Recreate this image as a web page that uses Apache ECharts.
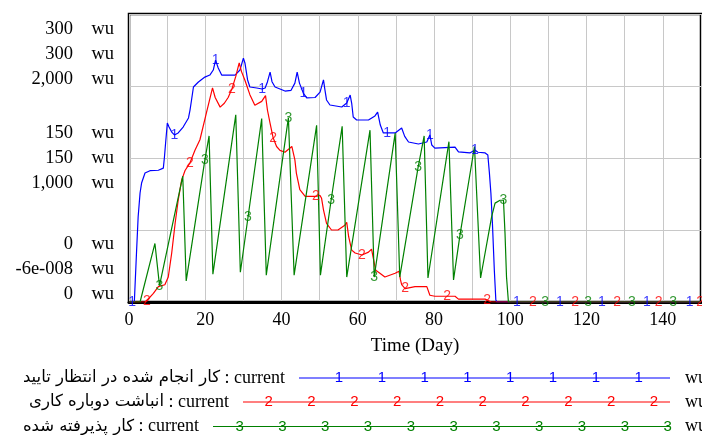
<!DOCTYPE html>
<html><head><meta charset="utf-8">
<script src="https://cdn.jsdelivr.net/npm/echarts@6/dist/echarts.min.js"></script>
<style>html,body{margin:0;padding:0;background:#fff}#c{width:702px;height:435px}</style>
</head><body><div id="c"></div>
<script>
// ---- data (day, value) ----
const blueData = [[0,0],[0.8,0],[1.4,0],[2.0,361],[2.4,592],[2.9,757],[3.3,826],[4.2,896],[5.5,912],[7.7,915],[9.0,930],[9.3,1007],[9.6,1104],[10.05,1243],[10.5,1215],[11.2,1180],[11.9,1160],[12.9,1174],[14.2,1215],[15.6,1278],[16.0,1333],[16.4,1403],[16.9,1493],[18.2,1528],[19.9,1562],[21.2,1576],[22.1,1611],[22.7,1680],[23.4,1625],[24.3,1576],[27.8,1576],[29.1,1611],[30.0,1694],[30.4,1660],[31.1,1542],[31.7,1493],[33.5,1486],[34.9,1479],[35.7,1486],[36.3,1528],[37.0,1597],[37.5,1530],[38.3,1493],[40.9,1465],[42.5,1470],[43.5,1520],[44.1,1597],[44.7,1520],[45.7,1451],[46.6,1417],[48.8,1420],[50.1,1458],[51.0,1542],[51.4,1470],[51.8,1403],[52.7,1368],[55.8,1354],[57.1,1382],[58.0,1437],[58.4,1380],[58.8,1285],[59.7,1264],[62.8,1264],[64.5,1292],[65.2,1319],[65.9,1229],[66.7,1174],[67.7,1174],[69.8,1174],[71.5,1208],[72.3,1150],[73.3,1111],[75.9,1097],[78.1,1111],[78.9,1160],[79.4,1090],[80.2,1069],[85.5,1076],[86.4,1042],[89.4,1035],[90.7,1056],[91.5,1040],[93.4,1035],[94.1,1021],[94.5,900],[94.9,757],[95.3,549],[95.8,222],[96.2,14],[96.5,0],[101.7,0],[113,0],[124,0],[135.8,0],[147,0],[150,0]];
const redData = [[0,0],[4.2,0],[4.7,1],[5.5,5],[6.4,9],[7.7,16],[9.4,18],[10.3,26],[11.2,51],[12.1,82],[12.9,106],[13.8,127],[14.7,137],[16.0,145],[17.3,158],[18.6,169],[20.3,197],[21.9,223],[22.6,213],[23.9,203],[25.0,207],[26.0,213],[27.0,222],[28.0,235],[28.9,249],[29.5,240],[30.4,231],[31.7,216],[33.0,205],[34.8,209],[35.8,215],[36.3,200],[37.0,186],[37.8,171],[38.7,162],[39.6,158],[40.9,156],[42.7,162],[43.1,164],[43.5,148],[43.9,134],[44.8,117],[46.2,110],[49.0,110],[50.1,111],[50.5,108],[51.0,96],[51.8,82],[53.1,75],[54.8,75],[56.6,80],[57.1,83],[57.6,68],[58.4,54],[59.3,51],[61.1,49],[62.8,52],[63.6,55],[64.0,47],[64.7,33],[65.8,30],[67.1,26],[69.8,30],[70.8,32],[71.2,23],[71.5,18],[72.4,14],[75.0,16],[78.1,16],[78.9,7],[80.2,6],[83.4,6],[85.5,6],[86.4,3],[93.4,3],[93.9,2],[95.0,0],[105.9,0],[117,0],[128,0],[138.9,0],[149.8,0],[150,0]];
const greenData = [[0,0],[2.9,0],[6.8,61],[8.0,17],[14.1,131],[15.0,22],[19.9,148],[21.0,173],[22.0,29],[28.0,195],[29.2,31],[31.2,88],[34.8,191],[36.0,28],[41.8,192],[43.3,28],[49.2,184],[50.2,28],[53.0,106],[55.9,183],[57.1,26],[63.2,179],[64.3,26],[69.8,176],[71.0,26],[75.8,140],[77.4,173],[78.4,25],[83.9,167],[85.1,23],[86.8,70],[90.6,162],[92.2,25],[95.1,89],[96.0,103],[97.3,106],[98.2,106],[98.6,72],[99.0,26],[99.5,0],[109.1,0],[120.4,0],[131.9,0],[142.7,0],[150,0]];
const blueMarkDays = [0.8,11.9,22.7,34.9,45.7,57.1,67.7,78.9,90.7,101.7,113,124,135.8,147];
const redMarkDays = [4.7,16.0,27.0,37.8,49.0,61.1,72.4,83.4,93.9,105.9,117,128,138.9,149.8];
const greenMarkDays = [8.0,19.9,31.2,41.8,53.0,64.3,75.8,86.8,98.2,109.1,120.4,131.9,142.7];
const yLabelsMax = ['300','300','2,000'];
const yLabelsMid = ['150','150','1,000'];
const yLabelsMin = ['0','-6e-008','0'];
const unit = 'wu';
const seriesNames = ['کار انجام شده در انتظار تایید','انباشت دوباره کاری','کار پذیرفته شده'];
const runName = 'current';
const markChars = ['1','2','3'];
const colors = ['#0000ff','#ff0000','#008000'];

// ---- build ----
const serif = 'Liberation Serif';
function nearest(data, day){ let b = data[0]; for (const p of data){ if (Math.abs(p[0]-day) < Math.abs(b[0]-day)) b = p; } return b; }
function marks(data, days){ return days.map(d => nearest(data, d)); }
function yLabel(v){
  let rows, pre = '', post = '';
  if (v === 2000) { rows = yLabelsMax; pre = '{sp| }\n'; }
  else if (v === 1000) { rows = yLabelsMid; }
  else if (v === 0) { rows = yLabelsMin; post = '\n{sp2| }'; }
  else return '';
  return pre + rows.map(r => '{n|' + r + '}{u|' + unit + '}').join('\n') + post;
}
const lineSeries = (data, i) => ({type:'line', data, yAxisIndex:i, symbol:'none', showSymbol:false, lineStyle:{color:colors[i], width:1.2}, itemStyle:{color:colors[i]}, z:2+i, silent:true});
const markSeries = (data, days, i) => ({type:'scatter', data:marks(data, days), yAxisIndex:i, symbolSize:1, itemStyle:{color:'rgba(0,0,0,0)'}, clip:false, silent:true, z:5+i,
  label:{show:true, position:'inside', formatter:markChars[i], color:colors[i], fontSize:14, fontFamily:'Liberation Sans'}});

const rowY = [378, 402, 426.5];
const lineStart = [299, 243, 213];
const firstMark = [339, 268.7, 239.6];
const markCount = [8, 10, 11];
const graphics = [];
for (let i = 0; i < 3; i++) {
  graphics.push({type:'text', style:{text: '{p|' + seriesNames[i] + '}{c| : ' + runName + '}', x: lineStart[i]-14, y: rowY[i], align:'right', verticalAlign:'middle',
    rich:{p:{fontSize:16.5, fontFamily:'"DejaVu Sans"', fill:'#000', lineHeight:22}, c:{fontSize:18, fontFamily:serif, fill:'#000', lineHeight:22}}}});
  graphics.push({type:'line', shape:{x1:lineStart[i], y1:rowY[i], x2:670, y2:rowY[i]}, style:{stroke:colors[i], lineWidth:1.2}});
  for (let k = 0; k < markCount[i]; k++) {
    graphics.push({type:'text', style:{text: markChars[i], x: firstMark[i] + k*42.8, y: rowY[i], align:'center', verticalAlign:'middle', font:'15px "Liberation Sans"', fill:colors[i]}});
  }
  graphics.push({type:'text', style:{text: unit, x: 685, y: rowY[i], align:'left', verticalAlign:'middle', font:'18px "Liberation Serif"', fill:'#000'}});
}

const chart = echarts.init(document.getElementById('c'), null, {renderer:'canvas'});
chart.setOption({
  animation:false,
  backgroundColor:'#fff',
  grid:{left:129, right:1, top:14, bottom:133, show:true, borderColor:'#000', borderWidth:2.5, backgroundColor:'#fff', containLabel:false, outerBoundsMode:'none'},
  xAxis:{type:'value', min:0, max:150, interval:10,
    axisLine:{show:true, onZero:false, lineStyle:{color:'#000', width:3}}, axisTick:{show:false},
    splitLine:{show:true, lineStyle:{color:'#c8c8c8', width:1}},
    axisLabel:{formatter: v => (v % 20 === 0 && v < 150) ? String(v) : '', fontFamily:serif, fontSize:18, color:'#000', margin:9},
    name:'Time (Day)', nameLocation:'middle', nameGap:35, nameTextStyle:{fontFamily:serif, fontSize:19, color:'#000'}},
  yAxis:[
    {type:'value', min:0, max:2000, interval:500, axisLine:{show:false}, axisTick:{show:false},
      splitLine:{show:true, lineStyle:{color:'#c8c8c8', width:1}},
      axisLabel:{formatter:yLabel, margin:15, color:'#000', fontFamily:serif, fontSize:18, lineHeight:25,
        rich:{n:{align:'right', fontFamily:serif, fontSize:18.5, lineHeight:25, color:'#000'},
              u:{align:'right', width:41, fontFamily:serif, fontSize:18.5, lineHeight:25, color:'#000'},
              sp:{lineHeight:80, fontSize:18}, sp2:{lineHeight:66, fontSize:18}}}},
    {type:'value', min:0, max:300, interval:75, show:false},
    {type:'value', min:0, max:300, interval:75, show:false}
  ],
  graphic: graphics,
  series:[
    lineSeries(blueData,0), lineSeries(redData,1), lineSeries(greenData,2),
    markSeries(blueData, blueMarkDays, 0), markSeries(redData, redMarkDays, 1), markSeries(greenData, greenMarkDays, 2)
  ]
});
</script></body></html>
